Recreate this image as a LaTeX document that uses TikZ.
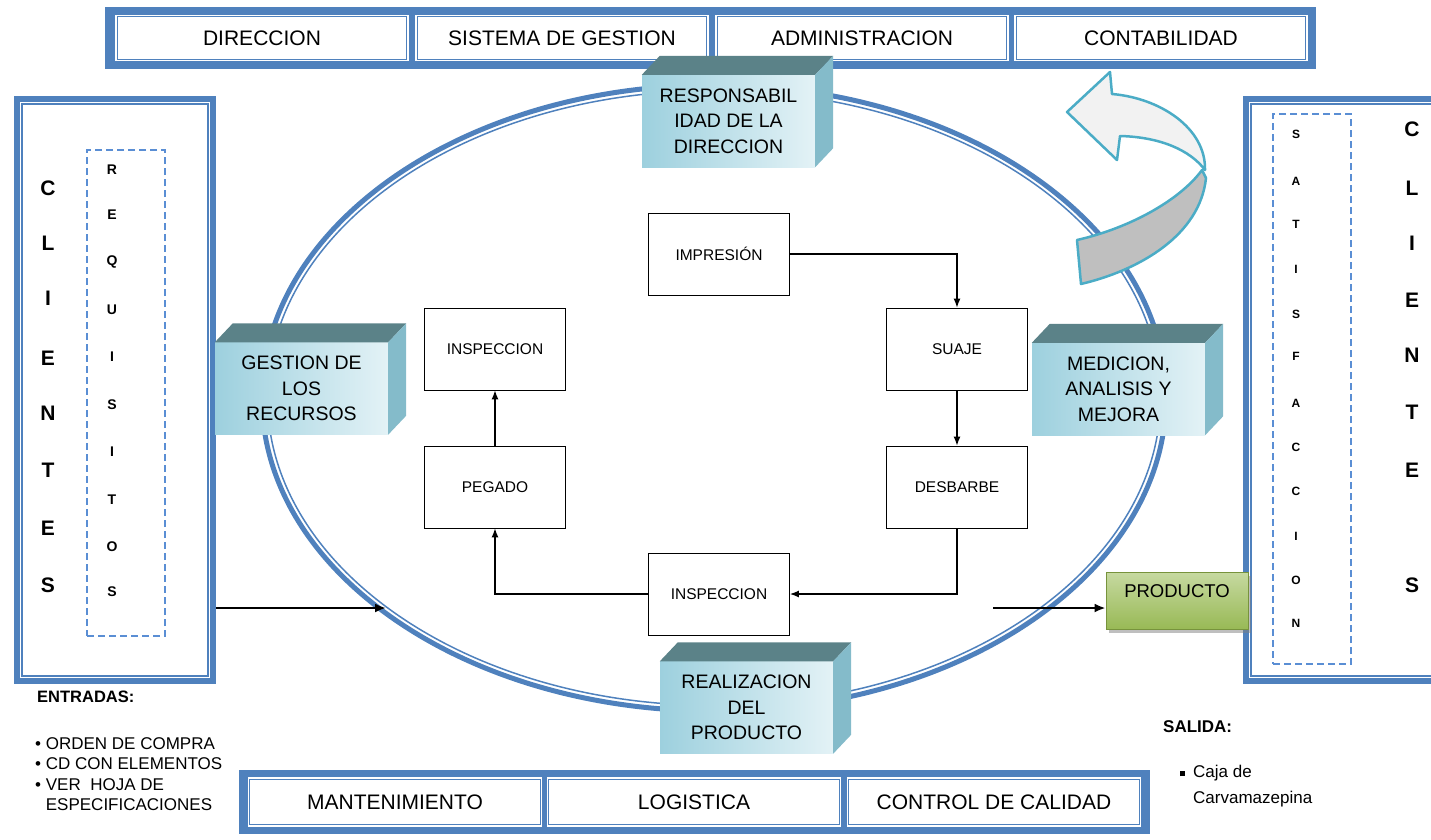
\documentclass[tikz,border=0pt]{standalone}
\usepackage{fontspec}
\setmainfont{Liberation Sans}
\usepackage{tikz}
\usetikzlibrary{shapes,arrows,arrows.meta,shadows}
\definecolor{qblue}{HTML}{4F81BD}
\definecolor{dashblue}{HTML}{5A8ED4}
\definecolor{cubetop}{HTML}{5B8288}
\definecolor{cubeside}{HTML}{84BBCA}
\definecolor{cubeleft}{HTML}{9DD0DE}
\definecolor{cuberight}{HTML}{E3F2F6}
\definecolor{turncyan}{HTML}{4BACC6}
\definecolor{turnlight}{HTML}{F2F2F2}
\definecolor{turngrey}{HTML}{BFBFBF}
\definecolor{prodtop}{HTML}{C6D9A0}
\definecolor{prodbot}{HTML}{98B955}
\definecolor{prodline}{HTML}{77933C}
\newcommand{\fs}[2]{\fontsize{#1}{#2}\selectfont}

\begin{document}
\begin{tikzpicture}[x=1pt,y=-1pt,
    cell/.style={draw=qblue,double=white,double distance=1.5pt,line width=1pt,fill=white,minimum width=292pt,minimum height=45pt,inner sep=0pt,font=\fs{21}{25}},
    proc/.style={draw,line width=0.9pt,fill=white,minimum width=141pt,minimum height=82pt,inner sep=0pt,font=\fs{15.5}{18}},
    cubefront/.style={left color=cubeleft,right color=cuberight,minimum width=173pt,minimum height=92pt,inner sep=0pt,align=center,font=\fs{19.5}{25.5}},
    panel/.style={draw=qblue,line width=6pt,fill=white,inner sep=0pt},
    innerline/.style={draw=qblue,line width=1.3pt},
    dashbox/.style={draw=dashblue,line width=1.4pt,dash pattern=on 7pt off 4pt,inner sep=0pt},
    bigletter/.style={font=\bfseries\fs{21}{25},inner sep=0pt},
    smallletter/.style={font=\bfseries\fs{14}{16},inner sep=0pt},
    tinyletter/.style={font=\bfseries\fs{12}{14},inner sep=0pt},
    flow/.style={line width=1.2pt,-{Latex[length=9pt,width=7pt]}},
    bigflow/.style={line width=2.4pt,-{Latex[length=11pt,width=9pt]}},
    turn/.style={draw=turncyan,line width=2.5pt,line join=round},
    prodbox/.style={top color=prodtop,bottom color=prodbot,draw=prodline,line width=0.8pt,minimum width=142pt,minimum height=57pt,inner sep=0pt,text height=13.5pt,text depth=20.5pt,font=\fs{18.5}{22},drop shadow={shadow xshift=3pt,shadow yshift=-3pt,opacity=0.5}},
    note/.style={inner sep=0pt,align=left}]
    \useasboundingbox (0,0) rectangle (1431,839);
    \newcommand{\qcube}[4]{%
        \node[cubefront] (#1) at (#2,#3) {#4};
        % Top face
        \fill[cubetop] (#1.north west) -- ++(18,-19) -- ([shift={(18,-19)}]#1.north east) -- (#1.north east) -- cycle;
        % Side face
        \fill[cubeside] (#1.north east) -- ++(18,-19) -- ([shift={(18,-19)}]#1.south east) -- (#1.south east) -- cycle;
    }
    % Top bar
    \fill[qblue] (105,7) rectangle (1316,69);
    \foreach \t/\x [count=\i] in {DIRECCION/262,SISTEMA DE GESTION/562,ADMINISTRACION/862,CONTABILIDAD/1161}
        {\node[cell] (top\i) at (\x,38) {\t};}
    % Bottom bar
    \fill[qblue] (239,770) rectangle (1150,834);
    \foreach \t/\x [count=\i] in {MANTENIMIENTO/395,LOGISTICA/694,CONTROL DE CALIDAD/994}
        {\node[cell,minimum width=293pt,minimum height=48pt] (bot\i) at (\x,802) {\t};}
    % Client panels
    \node[panel,minimum width=196pt,minimum height=582pt] (cliL) at (115,390) {};
    \draw[innerline] ([shift={(8,8)}]cliL.north west) rectangle ([shift={(-8,-8)}]cliL.south east);
    \node[panel,minimum width=198pt,minimum height=582pt] (cliR) at (1345,390) {};
    \draw[innerline] ([shift={(8,8)}]cliR.north west) rectangle ([shift={(-8,-8)}]cliR.south east);
    \node[dashbox,minimum width=78pt,minimum height=486pt] (reqbox) at (126,393) {};
    \node[dashbox,minimum width=78pt,minimum height=550pt] (satbox) at (1312,389) {};
    % Vertical letters
    \foreach \l/\yy [count=\i] in {C/188,L/243,I/298,E/358,N/413,T/470,E/528,S/585}
        {\node[bigletter] (cl\i) at (48,\yy) {\l};}
    \foreach \l/\yy [count=\i] in {R/170,E/215,Q/262,U/310,I/357,S/405,I/452,T/500,O/547,S/592}
        {\node[smallletter] (rq\i) at (112,\yy) {\l};}
    \foreach \l/\yy [count=\i] in {S/134,A/181,T/224,I/269,S/314,F/356,A/403,C/447,C/491,I/536,O/580,N/623}
        {\node[tinyletter] (sa\i) at (1296,\yy) {\l};}
    \foreach \l/\yy [count=\i] in {C/129,L/188,I/243,E/300,N/355,T/412,E/470,S/585}
        {\node[bigletter] (cr\i) at (1412,\yy) {\l};}
    % Ellipse
    \draw[qblue,line width=5pt] (714,398) ellipse (452 and 313);
    \draw[qblue,line width=1.5pt] (714,398) ellipse (446.5 and 307.5);
    % Turning arrow
    \draw[turn,fill=turngrey] (1202,170) .. controls (1180,200) and (1130,228) .. (1077,240) -- (1081,284)
        .. controls (1140,270) and (1200,235) .. (1206,178) -- cycle;
    \draw[turn,fill=turnlight] (1067,112) -- (1110,72) -- (1112,94) .. controls (1160,98) and (1206,128) .. (1205,170)
        .. controls (1190,150) and (1160,137) .. (1120,136) -- (1117,160) -- cycle;
    % Process boxes
    \node[proc] (imp) at (719,254) {IMPRESIÓN};
    \node[proc] (suaje) at (957,349) {SUAJE};
    \node[proc] (desb) at (957,487) {DESBARBE};
    \node[proc] (inspB) at (719,594) {INSPECCION};
    \node[proc] (peg) at (495,487) {PEGADO};
    \node[proc] (inspA) at (495,349) {INSPECCION};
    \draw[flow] (imp.east) -| (suaje.north);
    \draw[flow] (suaje.south) -- (desb.north);
    \draw[flow] (desb.south) |- (inspB.east);
    \draw[flow] (inspB.west) -| (peg.south);
    \draw[flow] (peg.north) -- (inspA.south);
    % Cubes
    \qcube{resp}{728.5}{121}{RESPONSABIL\\IDAD DE LA\\DIRECCION}
    \qcube{recur}{301.5}{388.5}{GESTION DE\\LOS\\RECURSOS}
    \qcube{medic}{1118.5}{389}{MEDICION,\\ANALISIS Y\\MEJORA}
    \qcube{realiz}{746.5}{707.5}{REALIZACION\\DEL\\PRODUCTO}
    % Product
    \node[prodbox] (prod) at (1177,601) {PRODUCTO};
    \coordinate (inend) at (386,608);
    \coordinate (outstart) at (993,608);
    \draw[bigflow] (inend -| cliL.east) -- (inend);
    \draw[bigflow] (outstart) -- (outstart -| prod.west);
    % Inputs and outputs
    \node[note,anchor=west,font=\bfseries\fs{16.5}{18}] (entradas) at (37,697) {ENTRADAS:};
    \node[note,anchor=north west,font=\fs{17}{20.5}] (inputs) at (35,737)
        {\textbullet\ ORDEN DE COMPRA\\\textbullet\ CD CON ELEMENTOS\\\textbullet\ VER\ \ HOJA DE\\\phantom{\textbullet\ }ESPECIFICACIONES};
    \node[note,anchor=west,font=\bfseries\fs{17}{18}] (salida) at (1163,727) {SALIDA:};
    \node[note,anchor=north west,font=\fs{17}{26}] (outputs) at (1180,765)
        {\rule[1.5pt]{5pt}{5pt}\hspace{8pt}Caja de\\\hspace{13pt}Carvamazepina};
\end{tikzpicture}
\end{document}
